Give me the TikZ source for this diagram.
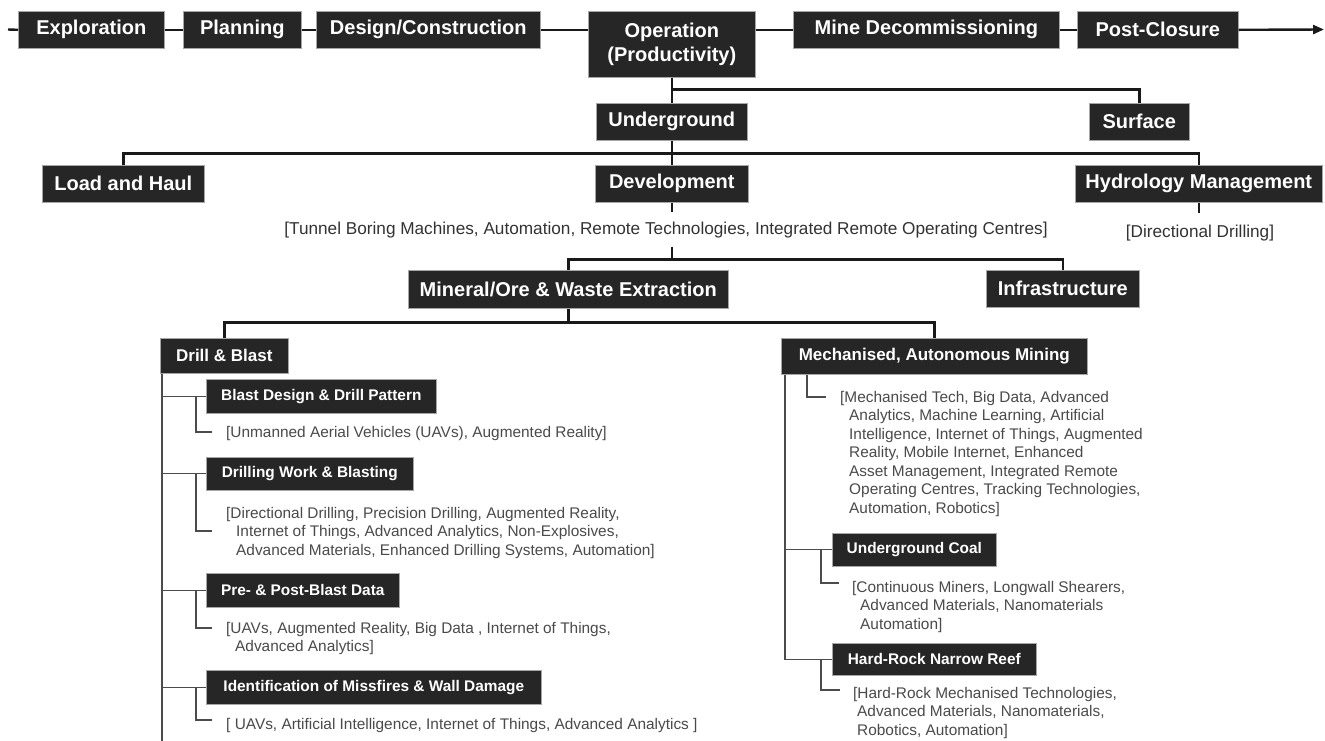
\documentclass[tikz,border=0pt]{standalone}
\usepackage{fontspec}
\setmainfont{Liberation Sans}
\usetikzlibrary{calc,arrows.meta}
\definecolor{boxfill}{HTML}{262626}
\definecolor{notegray}{HTML}{4A4A4A}
\begin{document}
\begin{tikzpicture}[x=1pt,y=-1pt,
  bx/.style={fill=boxfill,draw=gray!70,line width=0.6pt,text=white,inner sep=0pt,anchor=north west,align=center},
  bigbox/.style={bx,font=\bfseries\fontsize{20}{24}\selectfont},
  midbox/.style={bx,font=\bfseries\fontsize{17}{20}\selectfont},
  subbox/.style={bx,font=\bfseries\fontsize{15.4}{18}\selectfont},
  note/.style={inner sep=0pt,anchor=north west,align=left,text=notegray,font=\fontsize{15.4}{18.5}\selectfont},
  bignote/.style={inner sep=0pt,text=black!80,font=\fontsize{17.2}{20}\selectfont},
  mainline/.style={line width=2.4pt,draw=black!90},
  thinline/.style={line width=1.2pt,draw=black!70}]
\useasboundingbox[fill=white] (0,0) rectangle (1325,740);

% top row
\node[bigbox,minimum width=146pt,minimum height=37pt] (expl) at (18,11) {Exploration};
\node[bigbox,minimum width=118pt,minimum height=37pt] (plan) at (183,11) {Planning};
\node[bigbox,minimum width=224pt,minimum height=37pt] (design) at (316,11) {Design/Construction};
\node[bigbox,minimum width=167pt,minimum height=66pt] (oper) at (588,11) {Operation\\(Productivity)};
\node[bigbox,minimum width=266pt,minimum height=37pt] (mine) at (793,11) {Mine Decommissioning};
\node[bigbox,minimum width=161pt,minimum height=37pt] (post) at (1077,11) {Post-Closure};
\coordinate (lstart) at (8,29.5);
\coordinate (arrowend) at (1324,29.5);
\draw[mainline] (lstart) -- (expl.west);
\draw[mainline] (expl.east) -- (plan.west);
\draw[mainline] (plan.east) -- (design.west);
\draw[mainline] (design.east) -- (design.east -| oper.west);
\draw[mainline] (mine.west -| oper.east) -- (mine.west);
\draw[mainline] (mine.east) -- (post.west);
\draw[mainline,-{Triangle[length=11pt,width=9pt]}] (post.east) -- (arrowend);

% level 2
\node[bigbox,minimum width=151pt,minimum height=37pt] (ug) at (596,103) {Underground};
\node[bigbox,minimum width=100pt,minimum height=37pt] (surf) at (1089,103) {Surface};
\coordinate (bus0) at ($(oper.south)+(0,12)$);
\draw[mainline] (oper.south) -- (ug.north);
\draw[mainline] (bus0) -| (surf.north);

% level 3
\node[bigbox,minimum width=162pt,minimum height=37pt] (lh) at (42,165) {Load and Haul};
\node[bigbox,minimum width=153pt,minimum height=37pt] (dev) at (595,165) {Development};
\node[bigbox,minimum width=247pt,minimum height=37pt] (hyd) at (1075,165) {Hydrology Management};
\coordinate (bus1) at ($(ug.south)+(0,13)$);
\draw[mainline] (ug.south) -- (dev.north);
\draw[mainline] (lh.north) |- (bus1) -| (hyd.north);

\node[bignote] (devtxt) at (666,230) {[Tunnel Boring Machines, Automation, Remote Technologies, Integrated Remote Operating Centres]};
\node[bignote] (hydtxt) at (1200,233) {[Directional Drilling]};
\draw[mainline] (dev.south) -- ++(0,9);
\draw[mainline] (hyd.south) -- ++(0,10);

% level 4
\node[bigbox,minimum width=320pt,minimum height=38pt] (min) at (408,270) {Mineral/Ore \& Waste Extraction};
\node[bigbox,minimum width=153pt,minimum height=37pt] (inf) at (986,270) {Infrastructure};
\coordinate (bus2a) at ($(dev.south)+(0,44)$);
\coordinate (bus2) at ($(dev.south)+(0,57)$);
\draw[mainline] (bus2a) -- (bus2);
\draw[mainline] (min.north) |- (bus2) -| (inf.north);

% level 5
\node[midbox,minimum width=128pt,minimum height=35pt] (db) at (160,338) {Drill \& Blast};
\node[midbox,minimum width=306pt,minimum height=36pt] (mech) at (781,338) {Mechanised, Autonomous Mining};
\coordinate (bus3) at ($(min.south)+(0,14)$);
\draw[mainline] (min.south) -- (bus3);
\draw[mainline] (db.north) |- (bus3) -| (mech.north);

% Drill & Blast subtree
\node[subbox,minimum width=230pt,minimum height=34pt] (b1) at (206,379) {Blast Design \& Drill Pattern};
\node[subbox,minimum width=207pt,minimum height=33pt] (b2) at (206,457) {Drilling Work \& Blasting};
\node[subbox,minimum width=193pt,minimum height=34pt] (b3) at (206,573) {Pre- \& Post-Blast Data};
\node[subbox,minimum width=335pt,minimum height=34pt] (b4) at (206,670) {Identification of Missfires \& Wall Damage};

\node[note] (t1) at (226,426) {[Unmanned Aerial Vehicles (UAVs), Augmented Reality]};
\node[note] (t2) at (226,507) {[Directional Drilling, Precision Drilling, Augmented Reality,\\\hspace*{10pt}Internet of Things, Advanced Analytics, Non-Explosives,\\\hspace*{10pt}Advanced Materials, Enhanced Drilling Systems, Automation]};
\node[note] (t3) at (226,622) {[UAVs, Augmented Reality, Big Data , Internet of Things,\\\hspace*{9pt}Advanced Analytics]};
\node[note] (t4) at (226,718) {[ UAVs, Artificial Intelligence, Internet of Things, Advanced Analytics ]};

\coordinate (lt) at ($(db.south west)+(2,0)$);
\draw[thinline] (lt) -- ++(0,367);
\foreach \b in {b1,b2,b3,b4}{\draw[thinline] (lt |- \b.west) -- (\b.west);}
\draw[thinline] ($(b1.west)+(-10,0)$) |- ($(t1.north west)+(-14,6)$);
\draw[thinline] ($(b2.west)+(-10,0)$) |- ($(t2.north west)+(-14,24)$);
\draw[thinline] ($(b3.west)+(-10,0)$) |- ($(t3.north west)+(-14,6)$);
\draw[thinline] ($(b4.west)+(-10,0)$) |- ($(t4.north west)+(-14,2)$);

% Mechanised subtree
\node[subbox,minimum width=164pt,minimum height=33pt] (uc) at (832,533) {Underground Coal};
\node[subbox,minimum width=204pt,minimum height=32pt] (hr) at (832,643) {Hard-Rock Narrow Reef};

\node[note] (mt) at (840,391) {[Mechanised Tech, Big Data, Advanced\\\hspace*{9pt}Analytics, Machine Learning, Artificial\\\hspace*{9pt}Intelligence, Internet of Things, Augmented\\\hspace*{9pt}Reality, Mobile Internet, Enhanced\\\hspace*{9pt}Asset Management, Integrated Remote\\\hspace*{9pt}Operating Centres, Tracking Technologies,\\\hspace*{9pt}Automation, Robotics]};
\node[note] (uct) at (852,581) {[Continuous Miners, Longwall Shearers,\\\hspace*{8pt}Advanced Materials, Nanomaterials\\\hspace*{8pt}Automation]};
\node[note] (hrt) at (853,687) {[Hard-Rock Mechanised Technologies,\\\hspace*{4pt}Advanced Materials, Nanomaterials,\\\hspace*{4pt}Robotics, Automation]};

\coordinate (mtr) at ($(mech.south west)+(4,0)$);
\draw[thinline] (mtr) |- (hr.west);
\draw[thinline] (mtr |- uc.west) -- (uc.west);
\draw[thinline] ($(mech.south west)+(26,0)$) |- ($(mt.north west)+(-14,6)$);
\draw[thinline] ($(uc.west)+(-11,0)$) |- ($(uct.north west)+(-13,2)$);
\draw[thinline] ($(hr.west)+(-11,0)$) |- ($(hrt.north west)+(-13,3)$);
\end{tikzpicture}
\end{document}
